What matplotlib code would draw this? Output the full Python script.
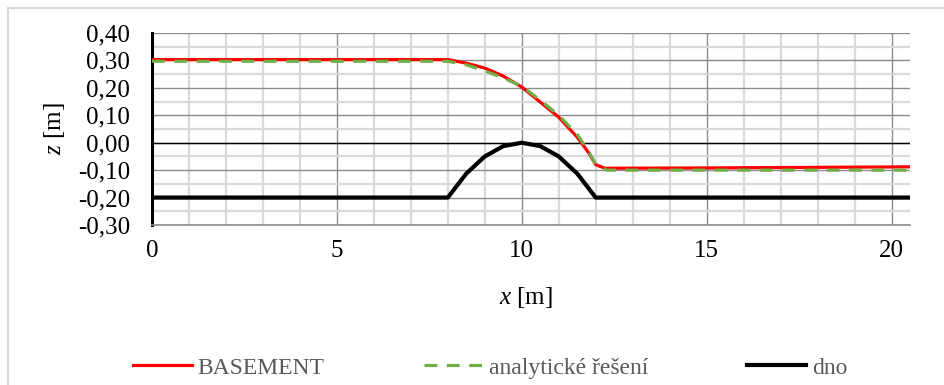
import matplotlib
matplotlib.use("Agg")
import matplotlib.pyplot as plt
from matplotlib.patches import Rectangle
from matplotlib.ticker import MultipleLocator

plt.rcParams['font.family'] = ['Liberation Serif', 'DejaVu Serif']
plt.rcParams['mathtext.fontset'] = 'custom'
plt.rcParams['mathtext.it'] = 'Liberation Serif:italic'
plt.rcParams['mathtext.rm'] = 'Liberation Serif'

# values
x_basement = [0, 8, 8.5, 9, 9.5, 10, 10.5, 11, 11.5, 11.8, 12, 12.25, 15, 20.5]
z_basement = [0.303, 0.303, 0.29, 0.272, 0.243, 0.203, 0.148, 0.093, 0.02, -0.035,
              -0.08, -0.093, -0.092, -0.088]

x_analytic = [0, 8, 8.5, 9, 9.5, 10, 10.5, 11, 11.5, 11.8, 12, 12.3, 20.5]
z_analytic = [0.297, 0.297, 0.284, 0.262, 0.236, 0.206, 0.155, 0.10, 0.03, -0.03,
              -0.08, -0.10, -0.10]

x_bed = [0, 8, 8.5, 9, 9.5, 10, 10.5, 11, 11.5, 12, 20.5]
z_bed = [-0.2, -0.2, -0.1125, -0.05, -0.0125, 0.0, -0.0125, -0.05, -0.1125, -0.2, -0.2]

x_ticks = [0, 5, 10, 15, 20]
y_ticks = [-0.3, -0.2, -0.1, 0.0, 0.1, 0.2, 0.3, 0.4]
y_tick_labels = ['-0,30', '-0,20', '-0,10', '0,00', '0,10', '0,20', '0,30', '0,40']

W, H = 945, 385
fig = plt.figure(figsize=(W / 100, H / 100), dpi=100)
ax = fig.add_axes([152 / W, 1 - 225 / H, (910 - 152) / W, (225 - 33) / H])

# chart area border
fig.patches.append(Rectangle((8 / W, -0.1), 1.2, 1 - 8 / H + 0.1, transform=fig.transFigure,
                             fill=False, edgecolor='#d9d9d9', linewidth=1.5))

ax.set_xlim(0, 20.5)
ax.set_ylim(-0.3, 0.4)
ax.set_xticks(x_ticks)
ax.set_xticklabels([str(t) for t in x_ticks])
ax.set_yticks(y_ticks)
ax.set_yticklabels(y_tick_labels)
ax.xaxis.set_minor_locator(MultipleLocator(1))
ax.yaxis.set_minor_locator(MultipleLocator(0.05))

ax.grid(which='minor', color='#d9d9d9', linewidth=1.6)
ax.grid(which='major', color='#8c8c8c', linewidth=1.0)
ax.axhline(0, color='black', linewidth=1.0, zorder=2)
ax.set_axisbelow(True)
ax.tick_params(which='both', length=0, labelsize=18)
ax.tick_params(axis='y', pad=16)
ax.tick_params(axis='x', pad=11)

for side in ['top', 'right']:
    ax.spines[side].set_visible(False)
ax.spines['bottom'].set_color('#8c8c8c')
ax.spines['bottom'].set_linewidth(1.2)
ax.spines['left'].set_color('black')
ax.spines['left'].set_linewidth(2.2)

ax.plot(x_basement, z_basement, color='#ff0000', linewidth=2.3, label='BASEMENT', zorder=4)
ax.plot(x_analytic, z_analytic, color='#70ad47', linewidth=2.3, linestyle=(0, (4, 3)),
        label='analytické řešení', zorder=5)
ax.plot(x_bed, z_bed, color='black', linewidth=3.0, label='dno', zorder=3)

ax.set_xlabel(r'$x$ [m]', fontsize=18, va='center')
ax.xaxis.set_label_coords((526 - 152) / (910 - 152), -(297 - 225) / (225 - 33))
ax.set_ylabel(r'$z$ [m]', fontsize=18, va='center')
ax.yaxis.set_label_coords(-(152 - 55) / (910 - 152), 0.5)

leg = fig.legend(loc='center', bbox_to_anchor=(490 / W, 1 - 368 / H), ncol=3, frameon=False,
                 fontsize=17, handlelength=2.5, handletextpad=0.25, columnspacing=4.2)
for t in leg.get_texts():
    t.set_color('#595959')

fig.savefig('out.png', dpi=100)
